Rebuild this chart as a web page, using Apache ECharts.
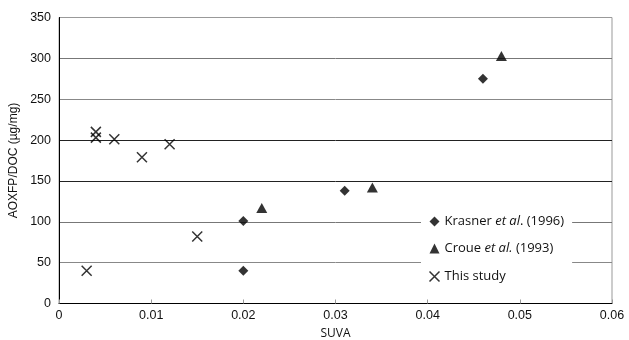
<!DOCTYPE html>
<html><head><meta charset="utf-8">
<script src="https://cdn.jsdelivr.net/npm/echarts@6/dist/echarts.min.js"></script>
<style>html,body{margin:0;padding:0;background:#fff}#c{width:629px;height:340px}</style>
</head><body><div id="c"></div>
<script>
const krasnerX = [0.02, 0.02, 0.031, 0.046];
const krasnerY = [101, 40, 138, 275];
const croueX = [0.022, 0.034, 0.048];
const croueY = [117, 142, 303];
const studyX = [0.003, 0.004, 0.004, 0.006, 0.009, 0.012, 0.015];
const studyY = [40, 210, 203, 201, 179, 195, 82];
const xTicks = [0, 0.01, 0.02, 0.03, 0.04, 0.05, 0.06];
const yTicks = [0, 50, 100, 150, 200, 250, 300, 350];

const crossPath = 'path://M0,0L10,10M10,0L0,10';
const pair = (xs, ys) => xs.map((x, i) => [x, ys[i]]);

const chart = echarts.init(document.getElementById('c'));
chart.setOption({
  animation: false,
  grid: { left: 59, right: 17, top: 17.5, bottom: 36.5, containLabel: false,
          outerBoundsMode: 'none',
          show: true, borderColor: '#999', borderWidth: 1 },
  xAxis: {
    type: 'value', min: 0, max: 0.06, interval: 0.01,
    name: 'SUVA', nameLocation: 'middle', nameGap: 24,
    nameTextStyle: { fontFamily: 'Open Sans', fontSize: 12, color: '#111' },
    axisLine: { show: true, lineStyle: { color: '#000', width: 1 } },
    axisTick: { show: true, inside: true, length: 4, lineStyle: { color: '#999' } },
    axisLabel: { fontFamily: 'Liberation Sans', fontSize: 12.5, color: '#111', margin: 6,
                 formatter: v => String(xTicks.find(t => Math.abs(t - v) < 1e-9) ?? v) },
    splitLine: { show: false }
  },
  yAxis: {
    type: 'value', min: 0, max: 350, interval: 50,
    name: 'AOXFP/DOC (µg/mg)', nameLocation: 'middle', nameGap: 34, nameRotate: 90,
    nameTextStyle: { fontFamily: 'Liberation Sans', fontSize: 12, color: '#111' },
    axisLine: { show: true, lineStyle: { color: '#000', width: 1 } },
    axisTick: { show: false },
    axisLabel: { fontFamily: 'Liberation Sans', fontSize: 12.5, color: '#111', margin: 8,
                 formatter: v => String(yTicks.find(t => t === v) ?? v) },
    splitLine: { show: true, lineStyle: { color: ['#000', '#888', '#777', '#222', '#222', '#888', '#777', '#999'], width: 1 } }
  },
  legend: {
    orient: 'vertical', left: 421, top: 209,
    backgroundColor: '#fff', padding: [6, 8, 10, 6],
    itemGap: 14, itemWidth: 10, itemHeight: 10,
    textStyle: { fontFamily: 'Open Sans', fontSize: 13, color: '#111',
      rich: { i: { fontStyle: 'italic', fontFamily: 'Open Sans', fontSize: 13, color: '#111' } } },
    formatter: name => {
      if (name === 'Krasner') return 'Krasner {i|et al}. (1996)';
      if (name === 'Croue') return 'Croue {i|et al.} (1993)';
      return 'This study';
    },
    data: [
      { name: 'Krasner', icon: 'diamond' },
      { name: 'Croue', icon: 'triangle' },
      { name: 'This study', icon: crossPath, itemStyle: { color: 'none', borderColor: '#000', borderWidth: 1.5 } }
    ]
  },
  series: [
    { name: 'Krasner', type: 'scatter', symbol: 'diamond', symbolSize: 10,
      itemStyle: { color: '#000' }, data: pair(krasnerX, krasnerY) },
    { name: 'Croue', type: 'scatter', symbol: 'triangle', symbolSize: [11, 10],
      itemStyle: { color: '#000' }, data: pair(croueX, croueY) },
    { name: 'This study', type: 'scatter', symbol: crossPath, symbolSize: 10,
      itemStyle: { color: 'none', borderColor: '#000', borderWidth: 1.5 }, data: pair(studyX, studyY) }
  ]
});
</script></body></html>
